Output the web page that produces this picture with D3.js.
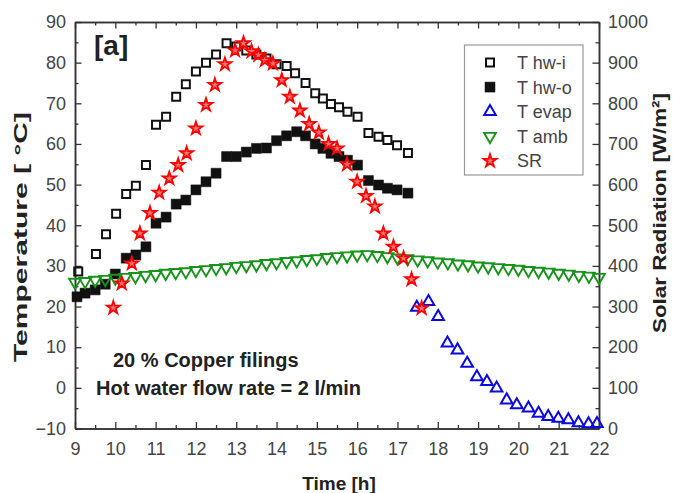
<!DOCTYPE html>
<html><head><meta charset="utf-8">
<script src="https://cdn.jsdelivr.net/npm/d3@7"></script>
<style>
html,body{margin:0;padding:0;background:#fff;}
svg{display:block;font-family:"Liberation Sans",Arial,sans-serif;}
</style></head>
<body><svg id="c" width="673" height="493"></svg>
<script>
// ---- data ----
const hwiTime = [9.08,9.52,9.77,10.02,10.27,10.51,10.76,11.01,11.26,11.51,11.75,12.0,12.25,12.5,12.76,13.0,13.25,13.5,13.75,14.0,14.25,14.46,14.72,14.96,15.15,15.35,15.55,15.76,16.01,16.28,16.53,16.75,16.99,17.26];
const hwiTemp = [28.6,32.9,37.8,42.8,47.7,49.7,54.8,64.7,66.7,71.6,74.7,77.8,80.0,82.0,84.8,84.0,83.0,82.0,81.0,79.6,79.2,77.4,75.0,72.5,71.2,69.8,69.0,67.9,66.7,62.7,61.8,61.0,59.7,57.8];

const hwoTime = [9.05,9.25,9.5,9.75,10.0,10.27,10.51,10.76,11.01,11.26,11.51,11.75,12.0,12.25,12.5,12.76,13.0,13.25,13.5,13.75,14.0,14.25,14.5,14.72,14.96,15.15,15.35,15.55,15.76,16.01,16.28,16.53,16.75,16.99,17.26];
const hwoTemp = [22.4,23.3,24.1,25.5,28.0,31.9,32.7,34.7,40.5,42.0,45.2,46.2,48.7,50.7,52.8,56.9,56.9,58.0,58.9,59.0,60.8,62.0,63.0,62.0,60.0,58.9,57.7,56.9,56.0,54.8,51.0,49.9,49.1,48.7,47.9];

const evapTime = [17.48,17.77,18.01,18.24,18.49,18.73,18.97,19.22,19.46,19.71,19.96,20.25,20.5,20.74,20.99,21.24,21.49,21.74,21.95];
const evapTemp = [19.8,21.2,17.5,11.0,9.3,6.0,2.7,1.5,-0.1,-3.0,-4.2,-5.0,-6.3,-7.1,-7.5,-7.9,-8.6,-8.9,-8.8];

const ambTime = [9.0,9.25,9.5,9.75,10.0,10.25,10.5,10.75,11.0,11.25,11.5,11.75,12.0,12.25,12.5,12.75,13.0,13.25,13.5,13.75,14.0,14.25,14.5,14.75,15.0,15.25,15.5,15.75,16.0,16.25,16.5,16.75,17.0,17.25,17.5,17.75,18.0,18.25,18.5,18.75,19.0,19.25,19.5,19.75,20.0,20.25,20.5,20.75,21.0,21.25,21.5,21.75,22.0];
const ambTemp = [26.0,26.2,26.5,26.7,27.0,27.2,27.4,27.7,27.9,28.2,28.4,28.6,28.9,29.1,29.4,29.6,29.9,30.1,30.3,30.6,30.8,31.1,31.3,31.6,31.8,32.1,32.3,32.5,32.7,32.8,32.6,32.3,32.0,31.8,31.5,31.3,31.0,30.8,30.5,30.3,30.0,29.8,29.6,29.4,29.2,28.9,28.7,28.5,28.2,28.0,27.7,27.5,27.2];

const srTime = [9.95,10.16,10.41,10.61,10.86,11.09,11.34,11.56,11.77,12.0,12.25,12.47,12.72,12.97,13.18,13.38,13.55,13.71,13.91,14.13,14.33,14.58,14.81,15.05,15.29,15.5,15.75,16.0,16.22,16.44,16.65,16.9,17.15,17.35,17.6];
const srValue = [297,357,406,480,530,580,615,648,677,738,796,845,896,930,948,928,919,906,898,857,816,782,749,728,700,689,650,607,572,546,480,447,419,367,296];

const xTicks = [9,10,11,12,13,14,15,16,17,18,19,20,21,22];
const yLeftTicks = [-10,0,10,20,30,40,50,60,70,80,90];
const yRightTicks = [0,100,200,300,400,500,600,700,800,900,1000];
const legendNames = ["T hw-i","T hw-o","T evap","T amb","SR"];

// ---- layout ----
const L=75, R=599, T=22, B=428.5;
const svg = d3.select("#c");
const x = d3.scaleLinear().domain([9,22]).range([L,R]);
const yL = d3.scaleLinear().domain([-10,90]).range([B,T]);
const yR = d3.scaleLinear().domain([0,1000]).range([B,T]);

const axisCol = "#333", labCol = "#444";
function styleAxis(g){
  g.selectAll(".domain").attr("stroke",axisCol).attr("stroke-width",1.5);
  g.selectAll(".tick line").attr("stroke",axisCol).attr("stroke-width",1.3);
  g.selectAll(".tick text").attr("fill",labCol).style("font-size","18px").style("font-family","'Liberation Sans',Arial,sans-serif");
}
const halves = a => a.slice(0,-1).map((v,i)=>(v+a[i+1])/2);

// minor ticks
svg.append("g").attr("transform",`translate(0,${B})`).call(d3.axisBottom(x).tickValues(halves(xTicks)).tickSize(-3.5).tickSizeOuter(0).tickFormat("")).call(styleAxis);
svg.append("g").attr("transform",`translate(0,${T})`).call(d3.axisTop(x).tickValues(halves(xTicks)).tickSize(-3.5).tickSizeOuter(0).tickFormat("")).call(styleAxis);
svg.append("g").attr("transform",`translate(${L},0)`).call(d3.axisLeft(yL).tickValues(halves(yLeftTicks)).tickSize(-3.5).tickSizeOuter(0).tickFormat("")).call(styleAxis);
svg.append("g").attr("transform",`translate(${R},0)`).call(d3.axisRight(yR).tickValues(halves(yRightTicks)).tickSize(-3.5).tickSizeOuter(0).tickFormat("")).call(styleAxis);
// major ticks
svg.append("g").attr("transform",`translate(0,${B})`).call(d3.axisBottom(x).tickValues(xTicks).tickSize(-6.5).tickSizeOuter(0).tickPadding(13.5).tickFormat(d3.format("d"))).call(styleAxis);
svg.append("g").attr("transform",`translate(0,${T})`).call(d3.axisTop(x).tickValues(xTicks).tickSize(-6.5).tickSizeOuter(0).tickFormat("")).call(styleAxis);
svg.append("g").attr("transform",`translate(${L},0)`).call(d3.axisLeft(yL).tickValues(yLeftTicks).tickSize(-6.5).tickSizeOuter(0).tickPadding(9).tickFormat(d3.format("d"))).call(styleAxis);
svg.append("g").attr("transform",`translate(${R},0)`).call(d3.axisRight(yR).tickValues(yRightTicks).tickSize(-6.5).tickSizeOuter(0).tickPadding(9).tickFormat(d3.format("d"))).call(styleAxis);

// ---- markers ----
const sq = d3.symbol().type(d3.symbolSquare);
const tri = d3.symbol().type(d3.symbolTriangle);
const star = d3.symbol().type(d3.symbolStar);
const styles = [
  {path: sq.size(64)(),  fill:"none", stroke:"#111", sw:2, rot:0},
  {path: sq.size(100)(), fill:"#111", stroke:"#111", sw:0.5, rot:0},
  {path: tri.size(58)(), fill:"none", stroke:"#0a0ae0", sw:2, rot:0},
  {path: tri.size(60)(), fill:"none", stroke:"#16941a", sw:1.9, rot:180},
  {path: star.size(52)(), fill:"#ff7070", stroke:"#ff0000", sw:1.8, rot:0}
];
function series(ts, vs, yS, st){
  const g = svg.append("g");
  g.selectAll("path").data(ts.map((t,i)=>[t,vs[i]])).join("path")
   .attr("d", st.path)
   .attr("transform", d=>`translate(${x(d[0])},${yS(d[1])}) rotate(${st.rot})`)
   .attr("fill", st.fill).attr("stroke", st.stroke).attr("stroke-width", st.sw);
}
series(hwiTime, hwiTemp, yL, styles[0]);
series(hwoTime, hwoTemp, yL, styles[1]);
series(ambTime, ambTemp, yL, styles[3]);
series(evapTime, evapTemp, yL, styles[2]);
series(srTime, srValue, yR, styles[4]);

// ---- legend ----
const lg = svg.append("g");
lg.append("rect").attr("x",464.5).attr("y",45).attr("width",118.5).attr("height",130)
  .attr("fill","#fff").attr("stroke","#999").attr("stroke-width",1.2);
legendNames.forEach((n,i)=>{
  const yy = 62.5 + i*24.6;
  lg.append("path").attr("d",styles[i].path).attr("transform",`translate(490,${yy}) rotate(${styles[i].rot})`)
    .attr("fill",styles[i].fill).attr("stroke",styles[i].stroke).attr("stroke-width",styles[i].sw);
  lg.append("text").attr("x",517).attr("y",yy+6.5).text(n).attr("fill",labCol).style("font-size","18px");
});

// ---- texts ----
svg.append("text").attr("x",94).attr("y",55).text("[a]").attr("fill","#222").style("font-size","28px").style("font-weight","bold");
svg.append("text").attr("x",113).attr("y",366.5).text("20 % Copper filings").attr("fill","#222").style("font-size","20px").style("font-weight","bold");
svg.append("text").attr("x",96).attr("y",395).text("Hot water flow rate = 2 l/min").attr("fill","#222").style("font-size","20px").style("font-weight","bold");
svg.append("text").attr("x",339).attr("y",490).attr("text-anchor","middle").text("Time [h]").attr("fill","#222").style("font-size","19px").style("font-weight","bold");
svg.append("text").attr("transform","translate(27,237) rotate(-90)").attr("text-anchor","middle")
  .attr("textLength",250).attr("lengthAdjust","spacingAndGlyphs")
  .text("Temperature [ °C]").attr("fill","#222").style("font-size","19px").style("font-weight","bold");
svg.append("text").attr("transform","translate(666,213) rotate(-90)").attr("text-anchor","middle")
  .attr("textLength",240).attr("lengthAdjust","spacingAndGlyphs")
  .text("Solar Radiation  [W/m²]").attr("fill","#222").style("font-size","19px").style("font-weight","bold");
</script>
</body></html>
